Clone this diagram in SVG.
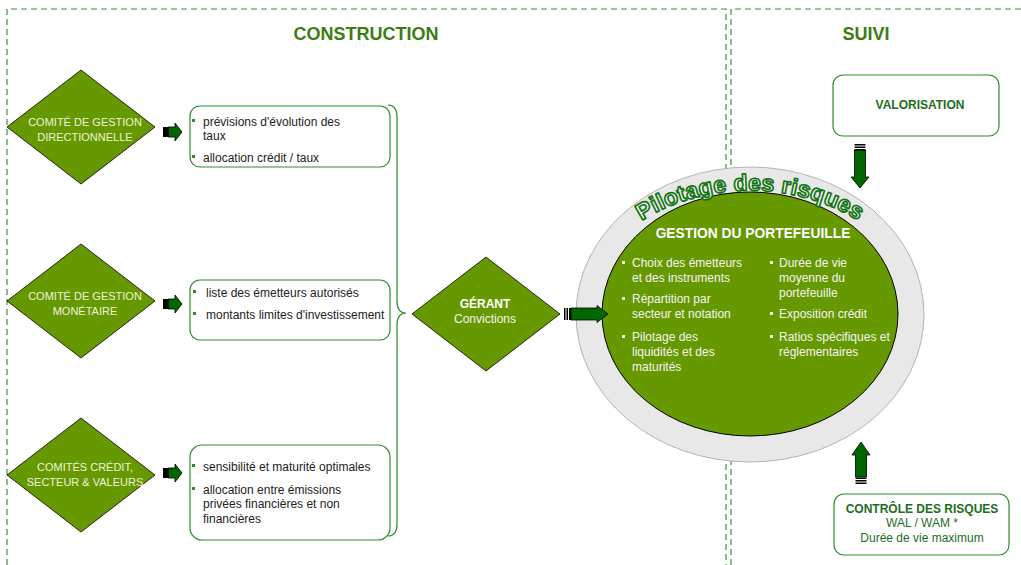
<svg xmlns="http://www.w3.org/2000/svg" xmlns:xlink="http://www.w3.org/1999/xlink" width="1021" height="565" viewBox="0 0 1021 565">
<style>
  text { font-family: "Liberation Sans", Arial, sans-serif; }
  .frame { fill: none; stroke: #3a8f3a; stroke-width: 1.2; stroke-dasharray: 6 4; }
  .title { font-size: 18px; font-weight: bold; fill: #3b7d10; text-anchor: middle; }
  .dia { fill: #669900; stroke: #000; stroke-width: 0.8; }
  .diat { font-size: 11px; fill: #eef2dc; text-anchor: middle; }
  .box { fill: #fff; stroke: #2e8b2e; stroke-width: 1.2; }
  .bt { font-size: 12px; fill: #222; }
  .bul { fill: #2e8b2e; }
  .wt { font-size: 12px; fill: #f4f4f4; }
  .wbul { fill: #f4f4f4; }
  .arr { fill: #006600; stroke: #000; stroke-width: 0.8; }
  .gt { fill: #1c6e1c; text-anchor: middle; font-size: 12px; }
  .pil { font-family: "Liberation Sans", Arial, sans-serif; font-size: 23px; font-weight: bold; letter-spacing: 0.2px; fill: #fff; stroke: #157515; stroke-width: 1.7; stroke-linejoin: round; }
</style>
<defs>
  <g id="arrowR">
    <path d="M5,-5 H12 V-9 L19,0 L12,9 V5 H5 Z" fill="#006600" stroke="#000" stroke-width="0.8"/>
    <rect x="0" y="-5" width="5.5" height="10" fill="#000"/>
  </g>
  <path id="arc" d="M640,222 A167,127 0 0,1 860,222"/>
</defs>
<rect width="1021" height="565" fill="#fff"/>

<g id="frames">
  <path class="frame" d="M7,565 V9 H726 V565"/>
  <path class="frame" d="M731,565 V9 H1021"/>
  <text class="title" x="366" y="40">CONSTRUCTION</text>
  <text class="title" x="866" y="40">SUIVI</text>
</g>

<g id="comite-directionnel">
  <polygon class="dia" points="7,127 81,70 155,127 81,184"/>
  <text class="diat" x="85" y="126">COMITÉ DE GESTION</text>
  <text class="diat" x="85" y="141">DIRECTIONNELLE</text>
</g>
<g id="comite-monetaire">
  <polygon class="dia" points="7,301 81,244 155,301 81,358"/>
  <text class="diat" x="85" y="300">COMITÉ DE GESTION</text>
  <text class="diat" x="85" y="315">MONÉTAIRE</text>
</g>
<g id="comites-credit">
  <polygon class="dia" points="7,475 81,418 155,475 81,532"/>
  <text class="diat" x="85" y="471">COMITÉS CRÉDIT,</text>
  <text class="diat" x="85" y="486">SECTEUR &amp; VALEURS</text>
</g>

<g id="box-directionnel">
  <rect class="box" x="190" y="106" width="200" height="61" rx="10"/>
  <rect class="bul" x="192" y="119" width="3" height="3"/>
  <text class="bt" x="203" y="126">prévisions d'évolution des</text>
  <text class="bt" x="203" y="140">taux</text>
  <rect class="bul" x="192" y="155" width="3" height="3"/>
  <text class="bt" x="203" y="162">allocation crédit / taux</text>
</g>
<g id="box-monetaire">
  <rect class="box" x="190" y="280" width="200" height="60" rx="10"/>
  <rect class="bul" x="193" y="290" width="3" height="3"/>
  <text class="bt" x="206" y="297">liste des émetteurs autorisés</text>
  <rect class="bul" x="193" y="312" width="3" height="3"/>
  <text class="bt" x="206" y="319">montants limites d'investissement</text>
</g>
<g id="box-credit">
  <rect class="box" x="190" y="445" width="200" height="95" rx="12"/>
  <rect class="bul" x="192" y="464" width="3" height="3"/>
  <text class="bt" x="203" y="471">sensibilité et maturité optimales</text>
  <rect class="bul" x="192" y="487" width="3" height="3"/>
  <text class="bt" x="203" y="494">allocation entre émissions</text>
  <text class="bt" x="203" y="508">privées financières et non</text>
  <text class="bt" x="203" y="523">financières</text>
</g>

<g id="gerant">
  <polygon class="dia" points="412,314 486,257 560,314 486,371"/>
  <text x="485" y="308" font-size="12" font-weight="bold" fill="#fff" text-anchor="middle">GÉRANT</text>
  <text x="485" y="323" font-size="12" fill="#f4f4f4" text-anchor="middle">Convictions</text>
</g>

<g id="gestion-portefeuille">
  <ellipse cx="750" cy="314.5" rx="174" ry="147.5" fill="#e8e8e8" stroke="#b4b4b4" stroke-width="1"/>
  <ellipse cx="750" cy="314" rx="148" ry="122" fill="#669900" stroke="#000" stroke-width="1"/>
  <text class="pil"><textPath xlink:href="#arc" href="#arc" startOffset="2">Pilotage des risques</textPath></text>
  <text x="753" y="238" font-size="13.8" font-weight="bold" fill="#fff" text-anchor="middle">GESTION DU PORTEFEUILLE</text>
  <rect class="wbul" x="622" y="261" width="3" height="3"/>
  <text class="wt" x="632" y="267">Choix des émetteurs</text>
  <text class="wt" x="632" y="282">et des instruments</text>
  <rect class="wbul" x="622" y="297" width="3" height="3"/>
  <text class="wt" x="632" y="303">Répartition par</text>
  <text class="wt" x="632" y="318">secteur et notation</text>
  <rect class="wbul" x="622" y="335" width="3" height="3"/>
  <text class="wt" x="632" y="341">Pilotage des</text>
  <text class="wt" x="632" y="356">liquidités et des</text>
  <text class="wt" x="632" y="371">maturités</text>
  <rect class="wbul" x="770" y="261" width="3" height="3"/>
  <text class="wt" x="779" y="267">Durée de vie</text>
  <text class="wt" x="779" y="282">moyenne du</text>
  <text class="wt" x="779" y="297">portefeuille</text>
  <rect class="wbul" x="770" y="312" width="3" height="3"/>
  <text class="wt" x="779" y="318">Exposition crédit</text>
  <rect class="wbul" x="770" y="335" width="3" height="3"/>
  <text class="wt" x="779" y="341">Ratios spécifiques et</text>
  <text class="wt" x="779" y="356">réglementaires</text>
</g>

<g id="valorisation">
  <rect class="box" x="833" y="75" width="166" height="61" rx="10"/>
  <text class="gt" x="920" y="109" font-weight="bold">VALORISATION</text>
</g>

<g id="controle-risques">
  <rect class="box" x="834" y="494" width="175" height="61" rx="10"/>
  <text class="gt" x="922" y="513" font-weight="bold">CONTRÔLE DES RISQUES</text>
  <text class="gt" x="922" y="527" fill="#2e8b2e">WAL / WAM *</text>
  <text class="gt" x="922" y="542">Durée de vie maximum</text>
</g>

<g id="connectors">
  <path d="M388,105 Q397,105 397,117 V301 Q397,313 406,313 Q397,313 397,325 V524 Q397,536 388,536" fill="none" stroke="#2e8b2e" stroke-width="1.2"/>
  <use xlink:href="#arrowR" href="#arrowR" x="163" y="132"/>
  <use xlink:href="#arrowR" href="#arrowR" x="163" y="304"/>
  <use xlink:href="#arrowR" href="#arrowR" x="163" y="473"/>
  <g>
    <path class="arr" d="M571,308 H597 V305.5 L608,314 L597,322.5 V320 H571 Z"/>
    <rect x="564" y="308" width="1.5" height="12" fill="#000"/>
    <rect x="566.5" y="308" width="1.5" height="12" fill="#000"/>
    <rect x="569" y="308" width="2" height="12" fill="#000"/>
  </g>
  <g>
    <path class="arr" d="M854.5,150 V177 H851 L860,188 L869,177 H865.5 V150 Z"/>
    <rect x="854.5" y="144" width="11" height="1.5" fill="#000"/>
    <rect x="854.5" y="146.5" width="11" height="1.5" fill="#000"/>
    <rect x="854.5" y="149" width="11" height="1.5" fill="#000"/>
  </g>
  <g>
    <path class="arr" d="M855.5,477 V455 H852 L861,442 L870,455 H866.5 V477 Z"/>
    <rect x="855.5" y="477.5" width="11" height="1.5" fill="#000"/>
    <rect x="855.5" y="480" width="11" height="1.5" fill="#000"/>
    <rect x="855.5" y="482.5" width="11" height="1.5" fill="#000"/>
  </g>
</g>
</svg>
